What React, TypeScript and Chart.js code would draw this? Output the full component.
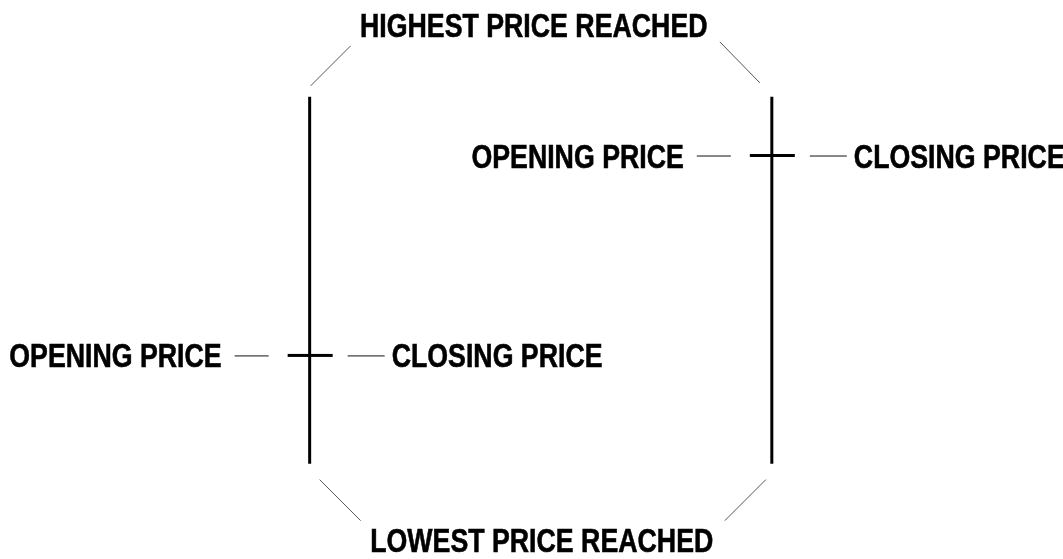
import React, { useEffect, useRef } from "react";
import { Chart, registerables } from "chart.js";

Chart.register(...registerables);

// Two example bars of an OHLC (open-high-low-close) diagram
const barPositions = [1, 2];
const highValues = [100, 100];
const lowValues = [0, 0];
const openValues = [29.5, 84];
const closeValues = [29.5, 84];

const topLabel = "HIGHEST PRICE REACHED";
const bottomLabel = "LOWEST PRICE REACHED";
const openLabel = "OPENING PRICE";
const closeLabel = "CLOSING PRICE";

const FONT = 'bold 33px "Liberation Sans", Arial, sans-serif';
const NARROW = 0.81;

const ohlcPlugin = {
  id: "ohlcDiagram",
  afterDatasetsDraw(chart: any) {
    const ctx: CanvasRenderingContext2D = chart.ctx;
    const xs = chart.scales.x;
    const ys = chart.scales.y;
    ctx.save();
    const line = (x1: number, y1: number, x2: number, y2: number, w: number, c: string) => {
      ctx.beginPath();
      ctx.strokeStyle = c;
      ctx.lineWidth = w;
      ctx.moveTo(x1, y1);
      ctx.lineTo(x2, y2);
      ctx.stroke();
    };
    const text = (s: string, x: number, y: number, align: CanvasTextAlign) => {
      ctx.save();
      ctx.translate(x, y);
      ctx.scale(NARROW, 1);
      ctx.font = FONT;
      ctx.fillStyle = "#000";
      ctx.strokeStyle = "#000";
      ctx.lineWidth = 0.6;
      ctx.textBaseline = "alphabetic";
      ctx.textAlign = align;
      ctx.fillText(s, 0, 0);
      ctx.strokeText(s, 0, 0);
      ctx.restore();
    };

    barPositions.forEach((bx, i) => {
      const x = xs.getPixelForValue(bx);
      const yo = ys.getPixelForValue(openValues[i]);
      const yc = ys.getPixelForValue(closeValues[i]);
      // open tick (left) and close tick (right)
      line(x - 22, yo, x, yo, 3, "#000");
      line(x, yc, x + 23, yc, 3, "#000");
      // leader dashes
      line(x - 75, yo + 0.5, x - 41, yo + 0.5, 1, "#111");
      line(x + 38, yc + 0.5, x + 75, yc + 0.5, 1, "#111");
      text(openLabel, x - 88, yo + 12, "right");
      text(closeLabel, x + 82, yc + 12, "left");
    });

    // connectors to high / low labels
    const x1 = xs.getPixelForValue(barPositions[0]);
    const x2 = xs.getPixelForValue(barPositions[1]);
    const yh = ys.getPixelForValue(Math.max(...highValues));
    const yl = ys.getPixelForValue(Math.min(...lowValues));
    line(x1 + 1, yh - 11, x1 + 41, yh - 51, 1, "#555");
    line(x2 - 12, yh - 14, x2 - 52, yh - 55, 1, "#555");
    line(x1 + 10, yl + 16, x1 + 51, yl + 57, 1, "#555");
    line(x2 - 6, yl + 16, x2 - 47, yl + 57, 1, "#555");

    const mid = (x1 + x2) / 2;
    text(topLabel, mid - 7, yh - 60, "center");
    text(bottomLabel, mid + 1, yl + 88, "center");
    ctx.restore();
  },
};

export default function App() {
  const ref = useRef<HTMLCanvasElement | null>(null);
  useEffect(() => {
    document.body.style.margin = "0";
    if (!ref.current) return;
    const chart = new Chart(ref.current, {
      type: "scatter",
      data: {
        datasets: barPositions.map((bx, i) => ({
          data: [
            { x: bx, y: lowValues[i] },
            { x: bx, y: highValues[i] },
          ],
          showLine: true,
          borderColor: "#000",
          borderWidth: 3,
          pointRadius: 0,
          clip: false as any,
        })),
      },
      options: {
        animation: false,
        responsive: false,
        events: [],
        layout: { padding: 0 },
        plugins: { legend: { display: false }, tooltip: { enabled: false }, title: { display: false } },
        scales: {
          x: { type: "linear", display: false, min: 0.33, max: 2.63 },
          y: { type: "linear", display: false, min: -26, max: 126.4 },
        },
      },
      plugins: [ohlcPlugin],
    });
    return () => chart.destroy();
  }, []);
  return (
    <div style={{ width: 1063, height: 559, background: "#fff" }}>
      <canvas ref={ref} width={1063} height={559} style={{ display: "block" }} />
    </div>
  );
}
